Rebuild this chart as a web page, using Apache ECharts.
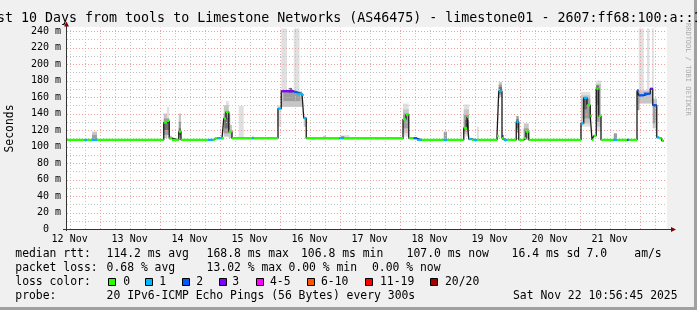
<!DOCTYPE html>
<html><head><meta charset="utf-8">
<script src="https://cdn.jsdelivr.net/npm/echarts@6/dist/echarts.min.js"></script>
<style>html,body{margin:0;padding:0;background:#f0f0f0}#c{width:697px;height:310px}</style>
</head><body><div id="c"></div>
<script>
// ---------------- data ----------------
const titleText = 'Last 10 Days from tools to Limestone Networks (AS46475) - limestone01 - 2607:ff68:100:a::1';
const dayLabels = ['12 Nov','13 Nov','14 Nov','15 Nov','16 Nov','17 Nov','18 Nov','19 Nov','20 Nov','21 Nov'];
const firstNoonHour = 1.054;      // hours after start (Nov 12 10:56:45)
const firstMidnightHour = 13.054;
const spanHours = 240;
const yMax = 240;

// median rtt (ms) as steps: start hour, value, loss class index
const medianStart = [0,7.1,8.0,10.0,12.0,38.7,40.0,40.9,42.0,44.7,45.6,56.4,58.3,59.1,60.0,62.0,62.7,63.6,64.7,66.0,
  74.0,74.7,84.4,85.7,90.7,92.0,94.0,94.7,95.7,108.9,110.7,134.4,135.6,136.7,138.7,140.0,142.0,150.7,152.0,158.7,
  160.0,160.7,162.0,162.7,164.0,172.0,172.7,174.0,174.7,176.0,179.7,180.7,182.7,183.6,184.7,205.6,206.7,208.0,209.3,210.0,
  210.7,211.7,212.7,213.6,218.7,220.0,224.0,224.7,228.0,228.7,230.7,233.3,234.3,235.9,236.8,237.9];
const medianValue = [108,108,108,108,108,129,131,110,108,118,108,108,108,110,110,110,134,142,118,110,
  110,110,146,167,166,164,162.5,134.5,110,110,110,133,138.5,110,110,108,108,108,108,122.5,
  136,109,108,108,108,113,167,110,108,108,130,108,110,118,108,128,159,150,137,108,
  113,170,137,108,108,108,108,108,168,162,164,170,150,111,110,107];
const medianLoss = [0,1,0,1,0,0,0,0,0,0,0,1,0,0,1,0,0,0,0,0,
  1,0,1,3,2,1,1,1,0,1,0,0,0,0,2,1,0,1,0,0,
  0,1,0,1,0,0,1,0,1,0,1,0,0,0,0,1,1,0,0,0,
  0,0,0,0,1,0,2,0,2,2,2,3,2,1,0,0];
const medianEnd = 238.7;

// smoke: [startHour, endHour, low ms, high ms, shade]
const smoke = [
  [10.0,12.0,108,118,1],[10.0,12.0,108,114,2],
  [40.0,40.9,110,148,0],[38.7,40.0,110,140,1],[38.7,40.9,114,134,2],[38.7,40.9,120,130,3],[40.9,42.0,108,113,1],
  [44.7,45.6,110,140,1],[44.7,45.6,112,130,2],[44.7,45.6,114,122,3],
  [63.6,64.7,112,155,0],[62.7,64.7,112,150,1],[62.7,65.3,116,140,2],[63.0,64.7,122,135,3],[64.7,66.0,110,126,1],
  [68.7,70.7,110,149,0],[74.0,74.8,110,113,0],
  [85.7,88.0,160,243,0],[90.7,93.0,160,243,0],[84.0,85.7,124,150,0],[85.7,94.0,148,167,1],[86.5,93.3,155,166,2],[88.7,90.0,165,171,3],[94.7,95.7,124,136,1],
  [102.5,103.5,110,113,1],[109.5,111.0,110,113,2],[111.0,113.0,110,114,0],
  [134.4,136.7,112,152,0],[134.4,136.7,116,145,1],[134.4,136.7,122,140,2],
  [150.7,152.0,108,118,2],[157.3,158.0,108,118,0],
  [158.7,160.8,112,151,0],[158.7,160.8,115,145,1],[158.7,160.8,118,138,2],[159.2,160.8,122,132,3],
  [164.0,164.7,108,124,0],
  [172.7,174.0,160,178,1],[172.7,174.0,163,175,2],[172.7,174.0,165,172,3],[174.0,174.7,108,114,3],
  [179.7,180.7,117,137,2],[179.7,180.7,122,133,3],
  [182.7,184.7,108,128,1],[182.7,184.7,110,122,2],
  [205.6,209.3,124,166,0],[205.6,209.3,128,162,1],[206.2,209.3,134,158,2],[206.7,208.0,145,158,3],
  [211.7,213.6,118,180,0],[211.7,213.6,124,176,1],[211.7,213.0,130,174,2],[211.7,212.7,150,174,3],
  [218.7,220.0,108,116,2],
  [228.7,230.7,162,243,0],[232.0,233.0,164,243,0],[234.0,234.7,170,243,0],[228.0,234.3,152,168,1],[228.0,229.0,144,168,2],[234.3,236.0,122,158,1],[234.3,235.5,128,150,2]
];

const lossColors = ['#26ff00','#00b8ff','#0059ff','#7e00ff','#ff00ff','#ff5500','#ff0000','#a00000'];
const lossLabels = ['0','1','2','3','4-5','6-10','11-19','20/20'];

const rttRow  = ['median rtt:','114.2 ms avg','168.8 ms max','106.8 ms min','107.0 ms now','16.4 ms sd','7.0','am/s'];
const lossRow = ['packet loss:','0.68 % avg','13.02 % max','0.00 % min','0.00 % now'];
const probeRow = ['probe:','20 IPv6-ICMP Echo Pings (56 Bytes) every 300s','Sat Nov 22 10:56:45 2025'];
const colorRowTitle = 'loss color:';

// ---------------- layout / style ----------------
const MONO = 'DejaVu Sans Mono';
const FS = 11.4;
const shades = ['#e0e0e0','#c6c6c6','#9e9e9e','#707070'];
const GL = 67, GR = 667, GT = 31, GB = 229;
const rttX = [15.3,106.6,206.6,301,406.6,511.6,586.5,634.3];
const lossX = [15.3,106.6,206.6,288.5,372];
const probeX = [15.3,106.6,513];
const boxX = [108.5,145.5,182.5,219.5,256.5,307.5,365.5,430.5];
const boxLabelX = [123.3,159.3,196.3,232.3,270,321,380,445];
const rowY = [253.8,267.8,281.8,295.8];

const vGrid = [];
for (let h = firstMidnightHour - 12; h <= spanHours; h += 6) {
  vGrid.push([h, Math.abs(((h - firstMidnightHour) % 24 + 24) % 24) < 0.01 ? 1 : 0]);
}
const hGrid = [];
for (let v = 10; v <= yMax; v += 10) hGrid.push([0, v, v % 20 === 0 ? 1 : 0]);

const segs = medianStart.map((t, i) => [t, i + 1 < medianStart.length ? medianStart[i + 1] : medianEnd, medianValue[i], medianLoss[i]]);
const medianPts = medianStart.map((t, i) => [t, medianValue[i]]).concat([[medianEnd, medianValue[medianValue.length - 1]]]);
const smokeSorted = smoke.slice().sort((a, b) => a[4] - b[4]);

const MAJOR = '#eea0a0', MINOR = '#c4c4c4';

const graphics = [
  {type:'rect', z:-1, shape:{x:GL, y:27, width:GR-GL, height:GB-27}, style:{fill:'#ffffff'}},
  {type:'rect', z:100, shape:{x:694, y:0, width:3, height:310}, style:{fill:'#a0a0a0'}},
  {type:'rect', z:100, shape:{x:0, y:307, width:697, height:3}, style:{fill:'#a0a0a0'}},
  // axes
  {type:'line', z:100, shape:{x1:66.5, y1:231, x2:66.5, y2:26}, style:{stroke:'#333', lineWidth:1}},
  {type:'line', z:100, shape:{x1:63, y1:229.5, x2:671, y2:229.5}, style:{stroke:'#333', lineWidth:1}},
  {type:'polygon', z:101, shape:{points:[[66.5,21.5],[64,26.5],[69,26.5]]}, style:{fill:'#7f0000'}},
  {type:'polygon', z:101, shape:{points:[[676,229.5],[671,227],[671,232]]}, style:{fill:'#7f0000'}},
  // title
  {type:'text', z:100, style:{x:-19, y:18.5, text:titleText, fontSize:13.3, fontFamily:MONO, fill:'#000', align:'left', verticalAlign:'middle'}},
  // y name
  {type:'text', z:100, x:10.5, y:128.5, rotation:Math.PI/2, style:{x:0, y:0, text:'Seconds', fontSize:FS, fontFamily:MONO, fill:'#000', align:'center', verticalAlign:'middle'}},
  // watermark
  {type:'text', z:100, x:688, y:23, rotation:-Math.PI/2, style:{x:0, y:0, text:'RRDTOOL / TOBI OETIKER', fontSize:7, fontFamily:MONO, fill:'#acacac', align:'left', verticalAlign:'middle'}}
];
function addRow(items, xs, y) {
  items.forEach((t, i) => graphics.push({type:'text', z:100, style:{x:xs[i], y:y, text:t, fontSize:FS, fontFamily:MONO, fill:'#000', align:'left', verticalAlign:'middle'}}));
}
addRow(rttRow, rttX, rowY[0]);
addRow(lossRow, lossX, rowY[1]);
addRow([colorRowTitle], [15.3], rowY[2]);
addRow(probeRow, probeX, rowY[3]);
lossColors.forEach((c, i) => {
  graphics.push({type:'rect', z:100, shape:{x:boxX[i], y:278.5, width:7, height:7}, style:{fill:c, stroke:'#000', lineWidth:1}});
  graphics.push({type:'text', z:100, style:{x:boxLabelX[i], y:rowY[2], text:lossLabels[i], fontSize:FS, fontFamily:MONO, fill:'#000', align:'left', verticalAlign:'middle'}});
});

const chart = echarts.init(document.getElementById('c'), null, {renderer:'canvas', width:697, height:310});
chart.setOption({
  animation:false,
  backgroundColor:'#f0f0f0',
  grid:{left:GL, right:697-GR, top:GT, bottom:310-GB},
  xAxis:{type:'value', min:0, max:spanHours,
    axisLine:{show:false}, axisTick:{show:false}, splitLine:{show:false},
    axisLabel:{customValues: dayLabels.map((_, i) => firstNoonHour + 24*i),
      formatter: v => dayLabels[Math.round((v - firstNoonHour)/24)] || '',
      fontSize:10, fontFamily:MONO, color:'#000', margin:4, lineHeight:12}},
  yAxis:{type:'value', min:0, max:yMax, interval:20,
    axisLine:{show:false}, axisTick:{show:false}, splitLine:{show:false},
    axisLabel:{formatter: v => v === 0 ? '0  ' : v + ' m', fontSize:10, fontFamily:MONO, color:'#000', margin:6}},
  graphic:graphics,
  series:[
    {type:'custom', name:'smoke', z:1, data:smokeSorted, encode:{x:[0,1], y:[2,3]},
      renderItem:(p, api) => {
        const a = api.coord([api.value(0), api.value(3)]);
        const b = api.coord([api.value(1), api.value(2)]);
        return {type:'rect', shape:{x:a[0], y:a[1], width:b[0]-a[0], height:b[1]-a[1]}, style:{fill:shades[api.value(4)]}};
      }},
    {type:'custom', name:'vgrid', z:2, data:vGrid, encode:{x:0},
      renderItem:(p, api) => {
        const a = api.coord([api.value(0), 0]);
        const b = api.coord([api.value(0), 244]);
        const x = Math.round(a[0]) + 0.5;
        return {type:'line', shape:{x1:x, y1:a[1], x2:x, y2:b[1]}, style:{stroke: api.value(1) ? MAJOR : MINOR, lineWidth:1, lineDash:[1,2]}};
      }},
    {type:'custom', name:'hgrid', z:2, data:hGrid, encode:{y:1},
      renderItem:(p, api) => {
        const a = api.coord([0, api.value(1)]);
        const b = api.coord([spanHours, api.value(1)]);
        const y = Math.round(a[1]) + 0.5;
        return {type:'line', shape:{x1:a[0], y1:y, x2:b[0], y2:y}, style:{stroke: api.value(2) ? MAJOR : MINOR, lineWidth:1, lineDash:[1,2]}};
      }},
    {type:'line', name:'median', z:3, data:medianPts, step:'end', showSymbol:false, symbol:'none',
      lineStyle:{color:'#1a1a1a', width:1.3}},
    {type:'custom', name:'loss', z:4, data:segs, encode:{x:[0,1], y:2},
      renderItem:(p, api) => {
        const a = api.coord([api.value(0), api.value(2)]);
        const b = api.coord([api.value(1), api.value(2)]);
        return {type:'line', shape:{x1:a[0], y1:a[1], x2:b[0], y2:b[1]}, style:{stroke:lossColors[api.value(3)], lineWidth:2.3}};
      }}
  ]
});
</script></body></html>
